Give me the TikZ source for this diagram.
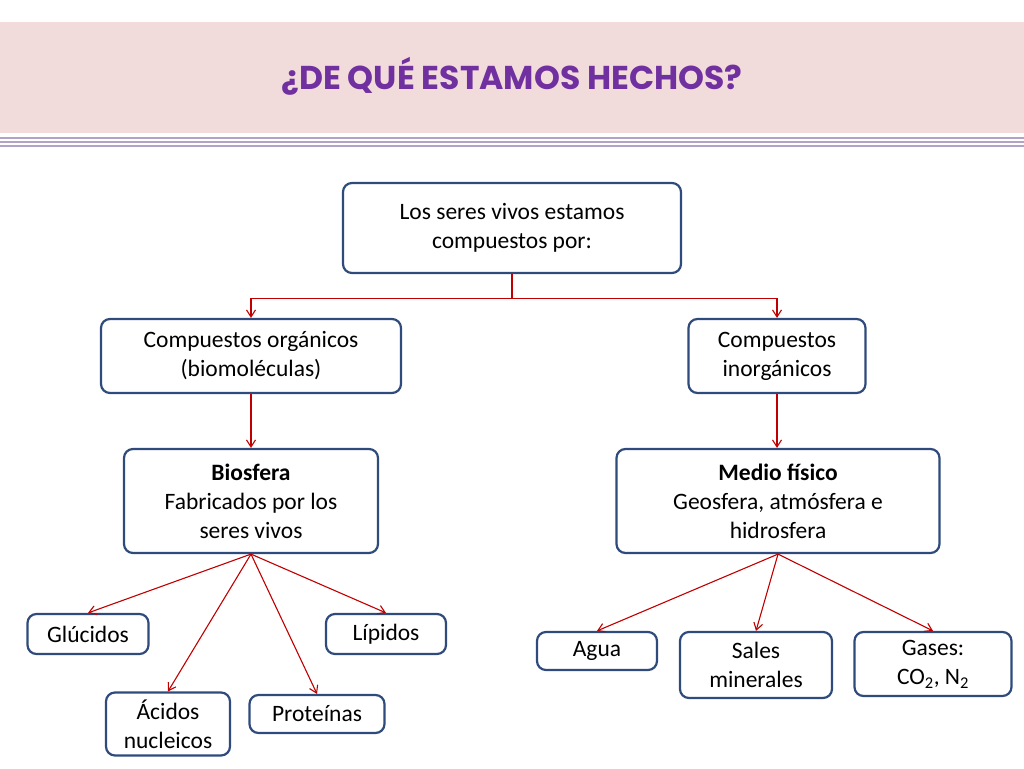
\documentclass[tikz,border=0pt]{standalone}
\usepackage{fontspec}
\setmainfont{Carlito}
\newfontfamily\titlefont{Poppins}
\usetikzlibrary{arrows.meta, calc}
\definecolor{boxline}{HTML}{2F4B7C}
\definecolor{arrowred}{HTML}{C00000}
\definecolor{titlebg}{HTML}{F2DCDB}
\definecolor{titlefg}{HTML}{7030A0}
\definecolor{stripe}{HTML}{B3A2C7}
\tikzset{
    my-box/.style={
        draw=boxline, line width=2.2pt, rounded corners=9pt, fill=white,
        align=center, inner sep=0pt, font=\fontsize{23.5}{29}\selectfont
    },
    my-arrow/.style={
        draw=arrowred, line width=1.1pt, -{Straight Barb[length=7pt, width=9pt]}
    },
}

\begin{document}
\begin{tikzpicture}[x=1pt, y=-1pt]

        % BACKGROUND AND TITLE BAND
        \useasboundingbox (0,0) rectangle (1024,768);
        \fill[titlebg] (0,22) rectangle (1024,133);
        \foreach \ypos in {138,142,146} {
            \draw[stripe, line width=2pt] (0,\ypos) -- (1024,\ypos);
        }
        \node[titlefg, font=\titlefont\bfseries\fontsize{33}{36}\selectfont] (TITLE) at (512,76) {¿DE QUÉ ESTAMOS HECHOS?};

        % LEVEL 1 AND 2
        \node[my-box, minimum width=338pt, minimum height=90pt] (TOP)   at (512,228) {Los seres vivos estamos\\compuestos por:};
        \node[my-box, minimum width=300pt, minimum height=74pt] (ORG)   at (251,356) {Compuestos orgánicos\\(biomoléculas)};
        \node[my-box, minimum width=177pt, minimum height=74pt] (INORG) at (777,356) {Compuestos\\inorgánicos};

        % LEVEL 3
        \node[my-box, minimum width=254pt, minimum height=104pt] (BIO)   at (251,501) {\textbf{Biosfera}\\Fabricados por los\\seres vivos};
        \node[my-box, minimum width=323pt, minimum height=104pt] (MEDIO) at (778,501) {\textbf{Medio físico}\\Geosfera, atmósfera e\\hidrosfera};

        % LEAVES
        \node[my-box, minimum width=121pt, minimum height=40pt] (GLU)   at (88,634)   {Glúcidos};
        \node[my-box, minimum width=120pt, minimum height=40pt] (LIP)   at (386,634)  {Lípidos};
        \node[my-box, minimum width=124pt, minimum height=63pt] (ACID)  at (168,724)  {Ácidos\\nucleicos};
        \node[my-box, minimum width=135pt, minimum height=38pt] (PROT)  at (317,714)  {Proteínas};
        \node[my-box, minimum width=120pt, minimum height=38pt] (AGUA)  at (597,651)  {Agua};
        \node[my-box, minimum width=152pt, minimum height=66pt] (SALES) at (756,665)  {Sales\\minerales};
        \node[my-box, minimum width=157pt, minimum height=64pt] (GASES) at (933,664)  {Gases:\\CO\textsubscript{2}, N\textsubscript{2}};

        % SPLIT UNDER TOP BOX
        \coordinate (SPLIT) at ($(TOP.south) + (0,24)$);
        \draw[arrowred, line width=1.1pt] (TOP.south) -- (SPLIT);
        \draw[my-arrow] (SPLIT) -| (ORG.north);
        \draw[my-arrow] (SPLIT) -| (INORG.north);

        % VERTICAL LINKS
        \draw[my-arrow] (ORG.south)   -- (BIO.north);
        \draw[my-arrow] (INORG.south) -- (INORG.south |- MEDIO.north);

        % FAN OUT
        \foreach \leaf in {GLU, LIP, ACID, PROT} {
            \draw[my-arrow] (BIO.south) -- (\leaf.north);
        }
        \foreach \leaf in {AGUA, SALES, GASES} {
            \draw[my-arrow] (MEDIO.south) -- (\leaf.north);
        }

\end{tikzpicture}
\end{document}
